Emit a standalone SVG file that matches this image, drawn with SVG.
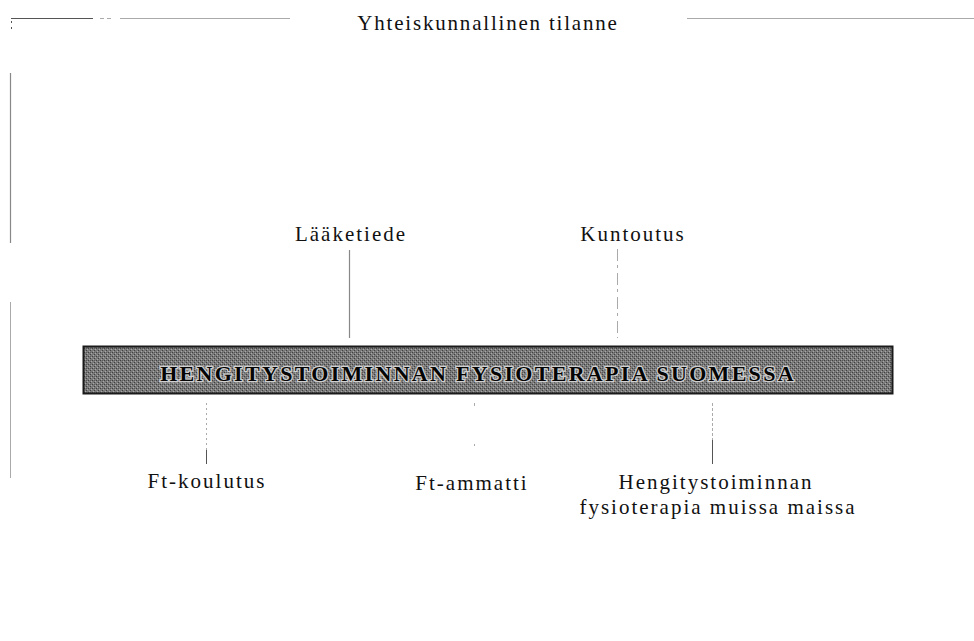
<svg xmlns="http://www.w3.org/2000/svg" width="974" height="641" viewBox="0 0 974 641">
<defs>
<pattern id="tex" width="4" height="4" patternUnits="userSpaceOnUse">
<rect width="4" height="4" fill="#7a7a7a"/>
<rect x="0" y="0" width="1" height="1" fill="#404040"/>
<rect x="2" y="2" width="1" height="1" fill="#404040"/>
<rect x="1" y="3" width="1" height="1" fill="#a8a8a8"/>
<rect x="3" y="1" width="1" height="1" fill="#a8a8a8"/>
<rect x="2" y="0" width="1" height="1" fill="#5a5a5a"/>
</pattern>
</defs>
<style>
.lbl{font-family:"Liberation Serif","Times New Roman",serif;font-size:21px;letter-spacing:2px;fill:#111}
.ttl{font-family:"Liberation Serif","Times New Roman",serif;font-size:21px;letter-spacing:1.8px;fill:#111}
.ban{font-family:"Liberation Serif","Times New Roman",serif;font-size:22px;font-weight:bold;letter-spacing:2.3px;fill:#050505;stroke:#cfcfcf;stroke-width:2.5px;paint-order:stroke}
.ln{stroke:#555;stroke-width:1;fill:none}
.lm{stroke:#888;stroke-width:1.2;fill:none}
.lt{stroke:#aaa;stroke-width:1;fill:none}
</style>
<rect width="974" height="641" fill="#fff"/>
<g id="frame">
<line class="ln" x1="11" y1="18.5" x2="93" y2="18.5"/>
<line class="lt" x1="100" y1="18.5" x2="113" y2="18.5" stroke-dasharray="4 3"/>
<line class="lt" x1="120" y1="18.5" x2="290" y2="18.5"/>
<line class="lt" x1="687" y1="18.5" x2="974" y2="18.5"/>
<line class="ln" x1="11.5" y1="21" x2="11.5" y2="30" stroke-dasharray="2 4"/>
<line class="lm" x1="10.5" y1="73" x2="10.5" y2="243"/>
<line class="lt" x1="10.5" y1="302" x2="10.5" y2="478"/>
<text class="ttl" x="488" y="30" text-anchor="middle">Yhteiskunnallinen tilanne</text>
</g>
<g id="connectors">
<line class="lm" x1="349.5" y1="250" x2="349.5" y2="338"/>
<line class="lt" x1="617.5" y1="249" x2="617.5" y2="338" stroke-dasharray="12 4 3 5"/>
<line class="lt" x1="206.5" y1="403" x2="206.5" y2="450" stroke-dasharray="2 3"/>
<line class="ln" x1="206.5" y1="450" x2="206.5" y2="464"/>
<line class="lt" x1="474.5" y1="403" x2="474.5" y2="406"/>
<line class="lt" x1="474.5" y1="444" x2="474.5" y2="446"/>
<line class="lt" x1="712.5" y1="403" x2="712.5" y2="440" stroke-dasharray="3 2"/>
<line class="ln" x1="712.5" y1="440" x2="712.5" y2="464"/>
</g>
<g id="center">
<rect x="83.5" y="346.5" width="809" height="47" fill="url(#tex)" stroke="#1a1a1a" stroke-width="2"/>
<text class="ban" x="478" y="381" text-anchor="middle">HENGITYSTOIMINNAN FYSIOTERAPIA SUOMESSA</text>
</g>
<g id="laaketiede"><text class="lbl" x="351" y="241" text-anchor="middle">Lääketiede</text></g>
<g id="kuntoutus"><text class="lbl" x="633" y="241" text-anchor="middle">Kuntoutus</text></g>
<g id="ftkoulutus"><text class="lbl" x="207" y="488" text-anchor="middle">Ft-koulutus</text></g>
<g id="ftammatti"><text class="lbl" x="472" y="490" text-anchor="middle">Ft-ammatti</text></g>
<g id="muissa"><text class="lbl" x="716" y="489" text-anchor="middle">Hengitystoiminnan</text><text class="lbl" x="718" y="514" text-anchor="middle">fysioterapia muissa maissa</text></g>
</svg>
